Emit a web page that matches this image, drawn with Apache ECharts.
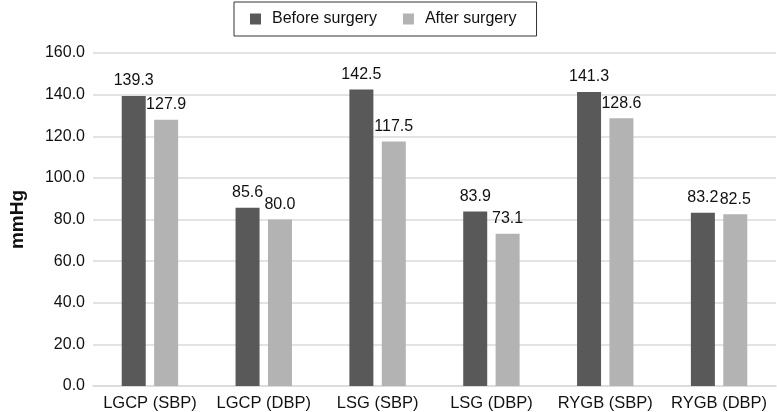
<!DOCTYPE html>
<html>
<head>
<meta charset="utf-8">
<script src="https://cdn.jsdelivr.net/npm/echarts@6/dist/echarts.min.js"></script>
<style>html,body{margin:0;padding:0;background:#fff;}#c{width:777px;height:412px;}</style>
</head>
<body>
<div id="c"></div>
<script>
const categories = ['LGCP (SBP)', 'LGCP (DBP)', 'LSG (SBP)', 'LSG (DBP)', 'RYGB (SBP)', 'RYGB (DBP)'];
const beforeSurgery = [139.3, 85.6, 142.5, 83.9, 141.3, 83.2];
const afterSurgery = [127.9, 80.0, 117.5, 73.1, 128.6, 82.5];
const seriesNames = ['Before surgery', 'After surgery'];
const yTicks = { min: 0, max: 160, interval: 20 };

const font = 'Liberation Sans, Arial, sans-serif';
const chart = echarts.init(document.getElementById('c'), null, { renderer: 'canvas' });
const labelCfg = {
  show: true, position: 'top', distance: 7,
  color: '#111', fontSize: 16, fontFamily: font,
  formatter: p => p.value.toFixed(1)
};
chart.setOption({
  animation: false,
  backgroundColor: '#fff',
  legend: {
    data: seriesNames,
    left: 234, top: 2,
    padding: [9, 20, 9, 16],
    itemWidth: 11, itemHeight: 11, itemGap: 26,
    borderColor: '#333', borderWidth: 1,
    icon: 'rect',
    textStyle: { fontSize: 16, fontFamily: font, color: '#111', padding: [0, 0, 0, 6] }
  },
  grid: { left: 89, right: 1, top: 53, bottom: 25, containLabel: false },
  xAxis: {
    type: 'category', data: categories,
    axisLine: { lineStyle: { color: '#dadada', width: 1.5 } },
    axisTick: { show: false },
    axisLabel: { color: '#111', fontSize: 16.5, fontFamily: font, margin: 9, interval: 0 }
  },
  yAxis: {
    type: 'value', min: yTicks.min, max: yTicks.max, interval: yTicks.interval,
    name: 'mmHg', nameLocation: 'middle', nameGap: 66,
    nameTextStyle: { fontSize: 19, fontWeight: 'bold', fontFamily: font, color: '#111' },
    axisLine: { show: false }, axisTick: { show: false },
    axisLabel: { color: '#111', fontSize: 16, fontFamily: font, margin: 8, formatter: v => v.toFixed(1) },
    splitLine: { lineStyle: { color: '#dadada', width: 1.5 } }
  },
  series: [
    { name: seriesNames[0], type: 'bar', data: beforeSurgery, barWidth: 24, barGap: '35%',
      itemStyle: { color: '#595959' }, label: labelCfg },
    { name: seriesNames[1], type: 'bar', data: afterSurgery, barWidth: 24, barGap: '35%',
      itemStyle: { color: '#b3b3b3' }, label: labelCfg }
  ]
});
</script>
</body>
</html>
